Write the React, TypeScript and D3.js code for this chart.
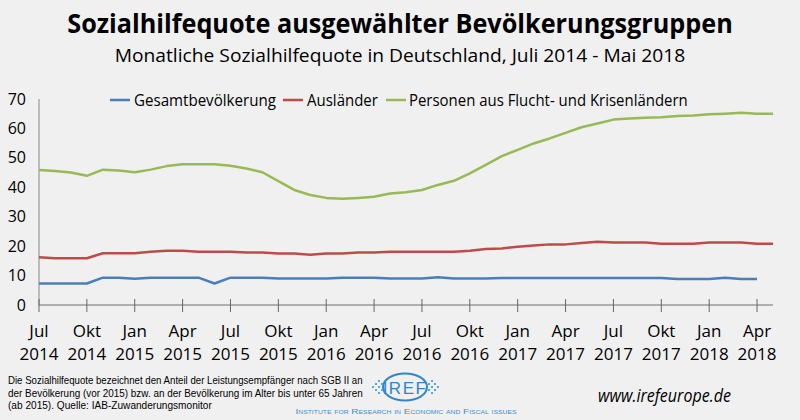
import React, { useLayoutEffect, useRef, useState } from "react";
import * as d3 from "d3";

const months: string[] = [
  "Jul 2014","Aug 2014","Sep 2014","Okt 2014","Nov 2014","Dez 2014",
  "Jan 2015","Feb 2015","Mär 2015","Apr 2015","Mai 2015","Jun 2015",
  "Jul 2015","Aug 2015","Sep 2015","Okt 2015","Nov 2015","Dez 2015",
  "Jan 2016","Feb 2016","Mär 2016","Apr 2016","Mai 2016","Jun 2016",
  "Jul 2016","Aug 2016","Sep 2016","Okt 2016","Nov 2016","Dez 2016",
  "Jan 2017","Feb 2017","Mär 2017","Apr 2017","Mai 2017","Jun 2017",
  "Jul 2017","Aug 2017","Sep 2017","Okt 2017","Nov 2017","Dez 2017",
  "Jan 2018","Feb 2018","Mär 2018","Apr 2018","Mai 2018",
];

const gesamt: (number | null)[] = [
  7.3, 7.3, 7.3, 7.3, 9.3, 9.3, 8.9, 9.3, 9.3, 9.3, 9.3, 7.3,
  9.3, 9.3, 9.3, 9.0, 9.0, 9.0, 9.0, 9.3, 9.3, 9.3, 9.0, 9.0,
  9.0, 9.4, 9.0, 9.0, 9.0, 9.2, 9.2, 9.2, 9.2, 9.2, 9.2, 9.2,
  9.2, 9.2, 9.2, 9.2, 8.8, 8.8, 8.8, 9.3, 8.8, 8.8, null,
];

const auslaender: number[] = [
  16.2, 15.9, 15.9, 15.9, 17.6, 17.6, 17.6, 18.1, 18.4, 18.4, 18.1, 18.1,
  18.1, 17.8, 17.8, 17.5, 17.5, 17.1, 17.5, 17.5, 17.8, 17.8, 18.1, 18.1,
  18.1, 18.1, 18.1, 18.4, 19.0, 19.2, 19.8, 20.2, 20.6, 20.6, 21.1, 21.5,
  21.2, 21.2, 21.2, 20.8, 20.8, 20.8, 21.2, 21.2, 21.2, 20.8, 20.8,
];

const flucht: number[] = [
  45.9, 45.5, 45.0, 43.9, 46.0, 45.7, 45.1, 46.0, 47.2, 47.8, 47.8, 47.8,
  47.3, 46.4, 45.1, 42.1, 39.1, 37.4, 36.4, 36.1, 36.4, 36.8, 37.9, 38.3,
  39.1, 40.8, 42.2, 44.7, 47.6, 50.6, 52.7, 54.9, 56.6, 58.5, 60.4, 61.7,
  63.0, 63.4, 63.6, 63.8, 64.2, 64.4, 64.8, 65.0, 65.3, 65.0, 65.0,
];

const seriesNames: string[] = [
  "Gesamtbevölkerung",
  "Ausländer",
  "Personen aus Flucht- und Krisenländern",
];
const seriesColors: string[] = ["#4a7ebb", "#be4b48", "#98b954"];

const yTicks: number[] = [0, 10, 20, 30, 40, 50, 60, 70];
const tickEvery = 3;

const title = "Sozialhilfequote ausgewählter Bevölkerungsgruppen";
const subtitle = "Monatliche Sozialhilfequote in Deutschland, Juli 2014 - Mai 2018";
const footnote: string[] = [
  "Die Sozialhilfequote bezeichnet den Anteil der Leistungsempfänger nach SGB II an",
  "der Bevölkerung (vor 2015) bzw. an der Bevölkerung im Alter bis unter 65 Jahren",
  "(ab 2015). Quelle: IAB-Zuwanderungsmonitor",
];
const website = "www.irefeurope.de";
const instituteName = "Institute for Research in Economic and Fiscal issues";

// Text that is horizontally scaled (via transform) to a target width, so its real box matches.
function FitText(props: {
  x: number; y: number; width: number; anchor?: "start" | "middle";
  fontSize: number; children: string; [k: string]: any;
}) {
  const { x, y, width, anchor = "start", fontSize, children, ...rest } = props;
  const ref = useRef<SVGTextElement>(null);
  const [k, setK] = useState(1);
  useLayoutEffect(() => {
    if (ref.current) {
      const w = ref.current.getComputedTextLength();
      if (w > 0) setK(width / w);
    }
  }, [width, children, fontSize]);
  return (
    <text ref={ref} transform={`translate(${x},${y}) scale(${k},1)`} textAnchor={anchor}
      fontSize={fontSize} {...rest}>{children}</text>
  );
}

export default function App() {
  const W = 800, H = 420;
  const x = d3.scaleLinear().domain([0, months.length - 1]).range([39, 773]);
  const y = d3.scaleLinear().domain([0, 70]).range([305, 99]);

  const line = d3
    .line<number | null>()
    .defined((d) => d != null)
    .x((_, i) => x(i))
    .y((d) => y(d as number));

  const allSeries = [gesamt, auslaender, flucht];
  const font = "'Open Sans', 'Noto Sans', sans-serif";
  const tickIdx = d3.range(0, months.length, tickEvery);

  const legendItems = [
    { x: 110, tx: 134, w: 142 },
    { x: 283, tx: 307, w: 71 },
    { x: 386, tx: 409, w: 279 },
  ];

  const dotsL = [[373, 384], [376, 381], [376, 387], [379, 384], [379, 378], [379, 390], [382, 381], [382, 387]];
  const dotsR = [[438, 384], [435, 381], [435, 387], [432, 384], [432, 378], [432, 390], [429, 381], [429, 387]];

  return (
    <svg width={W} height={H} style={{ position: "absolute", left: 0, top: 0, background: "#f0f0f0" }} fontFamily={font}>
      <rect width={W} height={H} fill="#f0f0f0" />
      <FitText x={400} y={33} anchor="middle" width={666} fontSize={26} fontWeight="bold" fill="#000">{title}</FitText>
      <FitText x={400} y={62} anchor="middle" width={571} fontSize={19} fill="#000">{subtitle}</FitText>

      {/* legend */}
      {legendItems.map((l, i) => (
        <g key={i}>
          <line x1={l.x} x2={l.x + 20} y1={100} y2={100} stroke={seriesColors[i]} strokeWidth={2.5} />
          <FitText x={l.tx} y={106} width={l.w} fontSize={16} fill="#000">{seriesNames[i]}</FitText>
        </g>
      ))}

      {/* y axis */}
      <line x1={39} x2={39} y1={y(70)} y2={y(0)} stroke="#868686" strokeWidth={1} />
      {yTicks.map((t) => (
        <text key={t} x={26} y={y(t) + 5.5} textAnchor="end" fontSize={16} fill="#000">{t}</text>
      ))}

      {/* x axis */}
      <line x1={x(0)} x2={x(months.length - 1)} y1={y(0)} y2={y(0)} stroke="#9a9a9a" strokeWidth={1.3} />
      {tickIdx.map((i) => (
        <line key={i} x1={x(i)} x2={x(i)} y1={y(0) - 6} y2={y(0) + 7} stroke="#666" strokeWidth={1} />
      ))}
      {tickIdx.map((i) => {
        const [m, yr] = months[i].split(" ");
        return (
          <g key={"l" + i}>
            <text x={x(i)} y={337} textAnchor="middle" fontSize={17} fill="#000">{m}</text>
            <text x={x(i)} y={360} textAnchor="middle" fontSize={17} fill="#000">{yr}</text>
          </g>
        );
      })}

      {/* series */}
      {allSeries.map((s, i) => (
        <path key={i} d={line(s) || ""} fill="none" stroke={seriesColors[i]} strokeWidth={2.5} strokeLinejoin="round" />
      ))}

      {/* footnote */}
      {footnote.map((t, i) => (
        <FitText key={i} x={8} y={384 + i * 12.7} fontSize={10.5} fill="#000"
          fontFamily="'Liberation Sans', sans-serif"
          width={i === 2 ? 204 : 355}>{t}</FitText>
      ))}

      {/* logo */}
      <g>
        <ellipse cx={405} cy={387} rx={22} ry={13.5} fill="none" stroke="#2f86d0" strokeWidth={2} />
        <text x={405} y={394} textAnchor="middle" fontSize={17} fill="#2f86d0" letterSpacing={1.5}
          fontFamily="'Liberation Sans', sans-serif">IREF</text>
        {dotsL.concat(dotsR).map((d, i) => (
          <rect key={i} x={d[0] - 1} y={d[1] + 2} width={2} height={2} fill="#5aa6e0" />
        ))}
        <FitText x={406} y={414} anchor="middle" width={218} fontSize={7.5} fill="#3a8fd0"
          style={{ fontVariant: "small-caps" }} fontFamily="'Liberation Sans', sans-serif">{instituteName}</FitText>
      </g>

      <FitText x={598} y={402} width={133} fontSize={18} fontStyle="italic" fill="#000">{website}</FitText>
    </svg>
  );
}
